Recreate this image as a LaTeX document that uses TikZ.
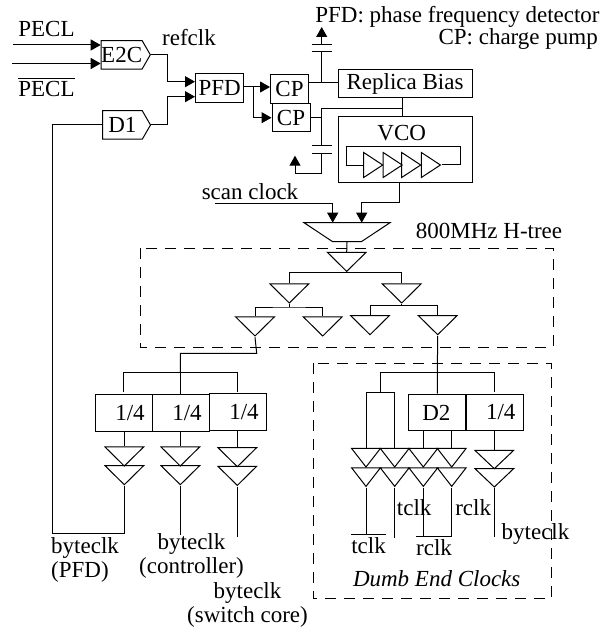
\documentclass[tikz,border=0pt]{standalone}
\usepackage{fontspec}
\setmainfont{Liberation Serif}
\usetikzlibrary{arrows.meta,shapes.geometric,shapes.symbols}
\tikzset{
  every node/.style={font=\fontsize{23}{24}\selectfont,inner sep=0pt},
  wire/.style={line width=1pt},
  sig/.style={wire,-{Triangle[length=10pt,width=11pt]}},
  blk/.style={draw,wire,rectangle,minimum width=#1,minimum height=28.5pt},
  div/.style={draw,wire,rectangle,minimum width=56.8pt,minimum height=36.6pt},
  recv/.style={draw,wire,signal,signal to=east,signal pointer angle=120,minimum width=48pt,minimum height=28.5pt,anchor=west},
  buf/.style={draw,wire,isosceles triangle,isosceles triangle stretches,shape border rotate=-90,minimum width=38.6pt,minimum height=19pt,anchor=apex},
  vbuf/.style={draw,wire,isosceles triangle,isosceles triangle stretches,minimum width=25pt,minimum height=19pt,anchor=apex},
  sbuf/.style={draw,wire,isosceles triangle,isosceles triangle stretches,shape border rotate=-90,minimum width=28.7pt,minimum height=18.5pt,anchor=apex},
  dashbox/.style={wire,dash pattern=on 11pt off 8pt},
}
\begin{document}
\begin{tikzpicture}[x=1pt,y=-1pt]
\useasboundingbox (0,0) rectangle (613,628);
% input side
\node (pecl) at (46.5,29) {PECL};
\node (npecl) at (46.5,87.5) {$\overline{\mbox{\rule{0pt}{17pt}PECL}}$};
\node (refclk) at (189,38) {refclk};
\node (legpfd) at (457.5,17) {PFD: phase frequency detector};
\node[anchor=east] (legcp) at (598,39) {CP: charge pump};
\node[recv] (e2c) at (100.7,54.8) {E2C};
\node[recv] (done) at (102,125) {D1};
\node[blk=48.2pt] (pfd) at (219.6,88) {PFD};
\node[blk=38pt] (cpa) at (289.5,89) {CP};
\node[blk=38pt] (cpb) at (291,117.7) {CP};
\coordinate (ina) at (13,45);
\coordinate (inb) at (12,63.5);
\draw[sig] (ina) -- (ina -| e2c.west);
\draw[sig] (inb) -- (inb -| e2c.west);
\coordinate (pfda) at (167.7,81.7);
\coordinate (pfdb) at (167.7,96.7);
\draw[sig] (e2c.east) -| (pfda) -- (pfda -| pfd.west);
\draw[sig] (done.east) -| (pfdb) -- (pfdb -| pfd.west);
\coordinate (cpsplit) at (253.3,87);
\draw[sig] (pfd.east |- cpsplit) -- (cpsplit -| cpa.west);
\draw[sig] (cpsplit) |- (cpb.west);
% loop filter and VCO
\node[blk=134pt,minimum height=28pt] (bias) at (405,84) {Replica Bias};
\node[draw,wire,minimum width=134pt,minimum height=66pt] (vco) at (405,150) {};
\node (vcotxt) at (401.7,133) {VCO};
\node[vbuf] (va) at (384,165) {};
\node[vbuf] (vb) at (403.5,165) {};
\node[vbuf] (vc) at (422,165) {};
\node[vbuf] (vd) at (441.7,165) {};
\coordinate (loopa) at (346,166);
\coordinate (loopb) at (460.7,146.7);
\draw[wire] (va.lower side |- loopa) -- (loopa) |- (loopb) |- (vd.apex);
\coordinate (tapa) at (321.7,82.7);
\coordinate (plua) at (321.7,45);
\coordinate (plub) at (321.7,51.7);
\coordinate (tipa) at (321.7,27);
\draw[wire] (cpa.east |- tapa) -- (bias.west |- tapa);
\draw[wire] (tapa) -- (plub);
\draw[wire] ([xshift=-10pt]plub) -- ([xshift=10pt]plub);
\draw[wire] ([xshift=-10pt]plua) -- ([xshift=10pt]plua);
\draw[sig] (plua) -- (tipa);
\coordinate (ctl) at (321.7,108.3);
\coordinate (tapb) at (402.7,108.3);
\coordinate (plta) at (321.7,145.7);
\coordinate (pltb) at (321.7,153.3);
\coordinate (rtn) at (295,173.3);
\coordinate (tipb) at (295,155.7);
\draw[wire] (cpb.east) -| (ctl) -- (tapb);
\draw[wire] (tapb |- bias.south) -- (tapb |- vco.north);
\draw[wire] (ctl) -- (plta);
\draw[wire] ([xshift=-10pt]plta) -- ([xshift=10pt]plta);
\draw[wire] ([xshift=-10pt]pltb) -- ([xshift=10pt]pltb);
\draw[sig] (pltb) |- (rtn) -- (tipb);
% clock mux
\node[draw,wire,trapezium,trapezium stretches,shape border rotate=180,trapezium left angle=45,trapezium right angle=45,minimum width=86pt,minimum height=19pt,inner sep=1pt] (mux) at (347,232.2) {};
\node (scan) at (250,192) {scan clock};
\node (hname) at (489,231) {800MHz H-tree};
\coordinate (scanin) at (215,204);
\coordinate (muxa) at (332.7,222.7);
\coordinate (muxb) at (361.7,222.7);
\coordinate (vcoout) at (399.3,183);
\draw[sig] (scanin) -| (muxa);
\draw[sig] (vcoout) |- (361.7,203) -- (muxb);
% H-tree
\draw[dashbox] (140,248.3) rectangle (553.3,347);
\node[buf] (ba) at (346.7,272.7) {};
\node[buf] (bb) at (289.3,304.3) {};
\node[buf] (bc) at (401.7,304.3) {};
\node[buf] (bd) at (255,337.3) {};
\node[buf] (be) at (322.7,337.3) {};
\node[buf] (bf) at (370,336) {};
\node[buf] (bg) at (437.7,336) {};
\coordinate (jb) at (289.3,307);
\coordinate (jc) at (401.7,305.7);
\draw[wire] (mux.south) -- (ba.lower side);
\draw[wire] (bb.lower side) |- (ba.apex) -| (bc.lower side);
\draw[wire] (bb.apex) -- (jb);
\draw[wire] (bc.apex) -- (jc);
\draw[wire] (bd.lower side) |- (jb) -| (be.lower side);
\draw[wire] (bf.lower side) |- (jc) -| (bg.lower side);
% byteclk dividers
\node[div] (qa) at (124,412.7) {\hspace*{12pt}1/4};
\node[div] (qb) at (181,412.7) {\hspace*{12pt}1/4};
\node[div] (qc) at (238,412) {\hspace*{12pt}1/4};
\coordinate (jd) at (256.7,353.3);
\coordinate (je) at (180.3,372.7);
\draw[wire] (bd.apex) -- (jd) -| (je);
\draw[wire] (je) -- (je |- qb.north);
\draw[wire] (123.7,391.7) |- (je) -| (237.3,391.7);
\node[buf] (ca) at (124.3,467.3) {};
\node[buf] (cb) at (180.3,467.3) {};
\node[buf] (cc) at (237.3,468) {};
\node[buf] (da) at (124.3,486) {};
\node[buf] (db) at (180.3,486) {};
\node[buf] (dc) at (237.3,486.7) {};
\draw[wire] (ca.lower side |- qa.south) -- (ca.lower side);
\draw[wire] (cb.lower side |- qb.south) -- (cb.lower side);
\draw[wire] (cc.lower side |- qc.south) -- (cc.lower side);
\coordinate (fb) at (52,533.3);
\coordinate (endb) at (180.3,535);
\coordinate (endc) at (237.3,536.7);
\draw[wire] (da.apex) |- (fb) |- (done.west);
\draw[wire] (db.apex) -- (endb);
\draw[wire] (dc.apex) -- (endc);
\node[anchor=west,align=left] (lba) at (51,560) {byteclk\\(PFD)};
\node[align=center] (lbb) at (191.5,556) {byteclk\\(controller)};
\node[align=center] (lbc) at (247.5,605) {byteclk\\(switch core)};
% dumb end clocks
\draw[dashbox] (313.3,363.3) rectangle (551.7,598.3);
\node[div] (dtwo) at (437.3,412.5) {\hspace*{-2pt}D2};
\node[div] (qd) at (494.7,412.5) {\hspace*{12pt}1/4};
\node[sbuf] (ea) at (366,468.3) {};
\node[sbuf] (eb) at (394.7,468.3) {};
\node[sbuf] (ec) at (423.3,468.3) {};
\node[sbuf] (ed) at (451.7,468.3) {};
\node[buf,minimum height=18.3pt] (ee) at (494.3,470) {};
\node[sbuf] (fa) at (366,487.7) {};
\node[sbuf] (fb2) at (394.7,487.7) {};
\node[sbuf] (fc) at (423.3,487.7) {};
\node[sbuf] (fd) at (451.7,487.7) {};
\node[buf,minimum height=18.3pt] (fe) at (494.3,488.3) {};
\coordinate (jf) at (437.3,372.7);
\coordinate (jg) at (380,392.7);
\draw[wire] (bg.apex) -- (jf) -- (jf |- dtwo.north);
\draw[wire] (jg) |- (jf) -| (494.3,391.7);
\draw[wire] (ea.lower side) |- (jg) -| (eb.lower side);
\draw[wire] (ec.lower side |- dtwo.south) -- (ec.lower side);
\draw[wire] (ed.lower side |- dtwo.south) -- (ed.lower side);
\draw[wire] (ee.lower side |- qd.south) -- (ee.lower side);
\coordinate (ta) at (366,534.3);
\coordinate (tb) at (394.7,538);
\coordinate (ra) at (423.3,536.7);
\coordinate (rb) at (451.7,536.7);
\coordinate (yb) at (494.3,536.7);
\draw[wire] (fa.apex) -- (ta);
\draw[wire] (351,534.3) -- (385.7,534.3);
\draw[wire] (fb2.apex) -- (tb);
\draw[wire] (fc.apex) -- (ra);
\draw[wire] (fd.apex) -- (rb);
\draw[wire] (416,536.7) -- (rb);
\draw[wire] (fe.apex) -- (yb);
\node (ltb) at (414.2,508) {tclk};
\node (lrb) at (473.2,508) {rclk};
\node (lta) at (368.5,546) {tclk};
\node (lra) at (434,548) {rclk};
\node (lby) at (535.5,534) {byteclk};
\node (dumb) at (436.7,578.7) {\itshape Dumb End Clocks};
\end{tikzpicture}
\end{document}
